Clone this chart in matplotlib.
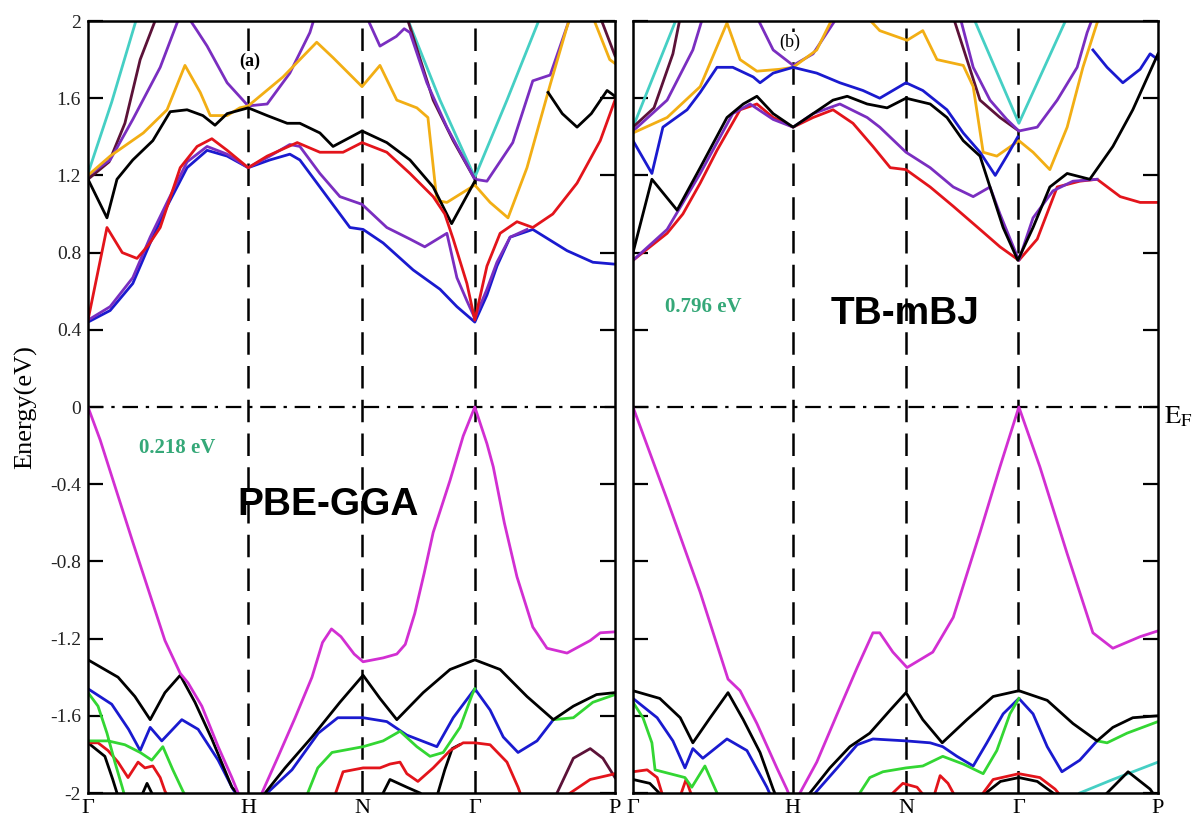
import numpy as np
import matplotlib.pyplot as plt

plt.rcParams["font.family"] = "serif"
plt.rcParams["font.serif"] = ["Liberation Serif", "DejaVu Serif"]
plt.rcParams["mathtext.fontset"] = "stix"

nan = np.nan

# path: Gamma-H-N-Gamma-P, as fraction of the total path length
kpoints = [0.0, 0.304, 0.520, 0.734, 1.0]
klabels = ["Γ", "H", "N", "Γ", "P"]
yticks = [-2, -1.6, -1.2, -0.8, -0.4, 0, 0.4, 0.8, 1.2, 1.6, 2]
ytick_labels = ["-2", "-1.6", "-1.2", "-0.8", "-0.4", "0", "0.4", "0.8", "1.2", "1.6", "2"]

C_BLACK = "#000000"
C_RED = "#e3141b"
C_GREEN = "#33d633"
C_BLUE = "#1a1acf"
C_MAGENTA = "#d22fd2"
C_VIOLET = "#7a2ec0"
C_ORANGE = "#f2ae14"
C_TURQ = "#45cfc4"
C_MAROON = "#5c1238"

# ---------------- (a) PBE-GGA : (k, E) points, nan breaks a line ----------
gga_vb_magenta = [(0, 0), (0.023, -0.17), (0.085, -0.70), (0.146, -1.21), (0.175, -1.38),
                  (0.190, -1.43), (0.216, -1.55), (0.247, -1.76), (0.273, -1.92), (0.285, -2.0),
                  (nan, nan),
                  (0.330, -2.0), (0.361, -1.81), (0.393, -1.61), (0.425, -1.40), (0.445, -1.22),
                  (0.462, -1.15), (0.480, -1.19), (0.505, -1.28), (0.522, -1.32), (0.560, -1.30),
                  (0.586, -1.28), (0.602, -1.23), (0.620, -1.07), (0.638, -0.86), (0.655, -0.65),
                  (0.687, -0.38), (0.712, -0.15), (0.734, 0.0), (0.757, -0.19), (0.769, -0.31),
                  (0.790, -0.60), (0.814, -0.88), (0.844, -1.14), (0.871, -1.25), (0.909, -1.275),
                  (0.953, -1.21), (0.972, -1.17), (1.0, -1.165)]
gga_vb_black = [(0, -1.31), (0.057, -1.40), (0.089, -1.50), (0.118, -1.62), (0.146, -1.48),
                (0.175, -1.39), (0.203, -1.53), (0.235, -1.72), (0.273, -1.97), (0.283, -2.0),
                (nan, nan),
                (0.336, -2.0), (0.374, -1.87), (0.425, -1.71), (0.478, -1.53), (0.522, -1.39),
                (0.554, -1.51), (0.586, -1.62), (0.636, -1.48), (0.687, -1.36), (0.734, -1.31),
                (0.782, -1.36), (0.833, -1.50), (0.883, -1.62), (0.921, -1.55), (0.965, -1.49),
                (1.0, -1.48)]
gga_vb_blue = [(0, -1.46), (0.045, -1.54), (0.077, -1.67), (0.099, -1.78), (0.118, -1.66),
               (0.140, -1.73), (0.178, -1.62), (0.209, -1.67), (0.247, -1.83), (0.275, -1.98),
               (0.280, -2.0), (nan, nan),
               (0.340, -2.0), (0.387, -1.88), (0.437, -1.69), (0.474, -1.61), (0.522, -1.61),
               (0.567, -1.63), (0.605, -1.70), (0.662, -1.76), (0.693, -1.61), (0.734, -1.46),
               (0.763, -1.57), (0.788, -1.71), (0.816, -1.79), (0.852, -1.73), (0.883, -1.62)]
gga_vb_green = [(0, -1.48), (0.019, -1.55), (0.036, -1.69), (0.051, -1.84), (0.065, -1.97),
                (0.068, -2.0), (nan, nan),
                (0.0, -1.73), (0.038, -1.73), (0.070, -1.75), (0.099, -1.79), (0.121, -1.83),
                (0.142, -1.76), (0.161, -1.88), (0.180, -1.99), (0.182, -2.0), (nan, nan),
                (0.417, -2.0), (0.436, -1.87), (0.463, -1.79), (0.522, -1.76), (0.560, -1.73),
                (0.592, -1.68), (0.624, -1.76), (0.649, -1.81), (0.674, -1.79), (0.706, -1.66),
                (0.729, -1.49), (0.734, -1.46), (nan, nan),
                (0.883, -1.62), (0.921, -1.61), (0.958, -1.53), (1.0, -1.49)]
gga_vb_red = [(0, -1.74), (0.019, -1.74), (0.038, -1.78), (0.057, -1.84), (0.076, -1.92),
              (0.095, -1.84), (0.108, -1.87), (0.123, -1.86), (0.137, -1.92), (0.146, -1.99),
              (0.148, -2.0), (nan, nan),
              (0.470, -2.0), (0.484, -1.89), (0.522, -1.87), (0.554, -1.87), (0.573, -1.85),
              (0.592, -1.84), (0.605, -1.90), (0.626, -1.94), (0.655, -1.87), (0.687, -1.78),
              (0.712, -1.74), (0.734, -1.74), (0.763, -1.75), (0.795, -1.84), (0.816, -1.97),
              (0.820, -2.0), (nan, nan),
              (0.915, -2.0), (0.953, -1.93), (0.985, -1.91), (1.0, -1.90)]
gga_vb_black_low = [(0, -1.74), (0.032, -1.81), (0.047, -1.93), (0.055, -2.0), (nan, nan),
                    (0.104, -2.0), (0.112, -1.95), (0.121, -2.0), (nan, nan),
                    (0.560, -2.0), (0.573, -1.93), (0.605, -1.97), (0.630, -2.0), (nan, nan),
                    (0.664, -2.0), (0.677, -1.88), (0.691, -1.77), (0.705, -1.75)]
gga_vb_maroon = [(0.890, -2.0), (0.921, -1.82), (0.953, -1.77), (0.977, -1.82), (1.0, -1.92)]

gga_cb_red = [(0, 0.45), (0.036, 0.93), (0.065, 0.80), (0.093, 0.77), (0.115, 0.84), (0.137, 0.93),
              (0.175, 1.24), (0.207, 1.35), (0.235, 1.39), (0.264, 1.33), (0.304, 1.24),
              (0.340, 1.30), (0.397, 1.37), (0.440, 1.32), (0.484, 1.32), (0.520, 1.37),
              (0.567, 1.32), (0.611, 1.21), (0.655, 1.09), (0.677, 1.00), (0.693, 0.87),
              (0.719, 0.64), (0.734, 0.45), (0.757, 0.73), (0.782, 0.90), (0.814, 0.96),
              (0.844, 0.93), (0.882, 1.00), (0.928, 1.16), (0.972, 1.38), (1.0, 1.59)]
gga_cb_blue = [(0, 0.44), (0.042, 0.50), (0.085, 0.64), (0.118, 0.85), (0.150, 1.04), (0.188, 1.24),
               (0.226, 1.33), (0.264, 1.30), (0.304, 1.24), (0.345, 1.28), (0.383, 1.31),
               (0.402, 1.28), (0.440, 1.14), (0.497, 0.93), (0.522, 0.92), (0.560, 0.85),
               (0.617, 0.71), (0.668, 0.61), (0.700, 0.52), (0.734, 0.44), (0.757, 0.58),
               (0.776, 0.73), (0.801, 0.88), (0.844, 0.92), (0.909, 0.81), (0.958, 0.75),
               (1.0, 0.74)]
gga_cb_violet = [(0, 0.45), (0.042, 0.52), (0.085, 0.67), (0.118, 0.88), (0.150, 1.06),
                 (0.188, 1.27), (0.226, 1.35), (0.264, 1.31), (0.304, 1.24), (0.345, 1.30),
                 (0.383, 1.36), (0.402, 1.35), (0.440, 1.21), (0.478, 1.09), (0.520, 1.05),
                 (0.567, 0.93), (0.611, 0.87), (0.639, 0.83), (0.681, 0.90), (0.700, 0.67),
                 (0.719, 0.55), (0.734, 0.46), (0.757, 0.61), (0.776, 0.75), (0.801, 0.88),
                 (0.833, 0.92)]
gga_cb_black = [(0, 1.18), (0.036, 0.98), (0.055, 1.18), (0.085, 1.28), (0.123, 1.38),
                (0.156, 1.53), (0.188, 1.54), (0.218, 1.51), (0.241, 1.46), (0.264, 1.52),
                (0.304, 1.55), (0.340, 1.51), (0.378, 1.47), (0.402, 1.47), (0.440, 1.42),
                (0.465, 1.35), (0.520, 1.43), (0.567, 1.37), (0.611, 1.28), (0.655, 1.14),
                (0.690, 0.95), (0.734, 1.17), (nan, nan),
                (0.873, 1.63), (0.900, 1.52), (0.928, 1.45), (0.955, 1.52), (0.985, 1.64),
                (1.0, 1.61)]
gga_cb_orange = [(0, 1.20), (0.042, 1.30), (0.105, 1.42), (0.150, 1.54), (0.184, 1.77),
                 (0.213, 1.63), (0.232, 1.51), (0.264, 1.51), (0.288, 1.55), (0.304, 1.56),
                 (0.370, 1.71), (0.434, 1.89), (0.465, 1.81), (0.520, 1.66), (0.554, 1.77),
                 (0.586, 1.59), (0.624, 1.55), (0.645, 1.50), (0.662, 1.07), (0.681, 1.06),
                 (0.734, 1.15), (0.763, 1.06), (0.797, 0.98), (0.833, 1.24), (0.877, 1.67),
                 (0.909, 1.97), (0.915, 2.02), (nan, nan),
                 (0.958, 2.02), (0.990, 1.80), (1.0, 1.78)]
gga_cb_violet_hi = [(0, 1.20), (0.042, 1.28), (0.085, 1.49), (0.137, 1.76), (0.169, 1.99),
                    (0.175, 2.02), (nan, nan),
                    (0.190, 2.02), (0.207, 1.95), (0.226, 1.87), (0.264, 1.68), (0.304, 1.56),
                    (0.340, 1.57), (0.383, 1.73), (0.421, 1.94), (0.430, 2.02), (nan, nan),
                    (0.529, 2.02), (0.554, 1.87), (0.585, 1.92), (0.600, 1.96), (0.611, 1.94),
                    (0.643, 1.68), (0.681, 1.45), (0.734, 1.18), (0.757, 1.17), (0.806, 1.37),
                    (0.844, 1.69), (0.877, 1.72), (0.915, 2.02)]
gga_cb_maroon = [(0, 1.18), (0.040, 1.27), (0.070, 1.47), (0.099, 1.80), (0.130, 2.02), (nan, nan),
                 (0.605, 2.02), (0.655, 1.59), (0.693, 1.38), (0.734, 1.18), (nan, nan),
                 (0.972, 2.02), (1.0, 1.82)]
gga_cb_turq = [(0, 1.21), (0.045, 1.58), (0.093, 2.02), (nan, nan),
               (0.605, 2.02), (0.668, 1.59), (0.734, 1.19), (0.795, 1.59), (0.858, 2.02)]

# ---------------- (b) TB-mBJ ----------------------------------------------
mbj_vb_magenta = [(0, 0), (0.065, -0.48), (0.128, -0.96), (0.181, -1.41), (0.204, -1.47),
                  (0.236, -1.64), (0.274, -1.87), (0.293, -1.98), (0.296, -2.0), (nan, nan),
                  (0.318, -2.0), (0.350, -1.84), (0.389, -1.59), (0.427, -1.35), (0.457, -1.17),
                  (0.470, -1.17), (0.495, -1.27), (0.522, -1.35), (0.571, -1.27), (0.610, -1.09),
                  (0.661, -0.65), (0.699, -0.31), (0.735, 0.0), (0.775, -0.31), (0.827, -0.76),
                  (0.876, -1.17), (0.914, -1.25), (0.966, -1.19), (1.0, -1.16)]
mbj_vb_black = [(0, -1.47), (0.051, -1.51), (0.090, -1.61), (0.114, -1.74), (0.147, -1.61),
                (0.181, -1.48), (0.210, -1.62), (0.242, -1.79), (0.267, -1.98), (0.270, -2.0),
                (nan, nan),
                (0.337, -2.0), (0.375, -1.87), (0.413, -1.76), (0.451, -1.69), (0.490, -1.57),
                (0.520, -1.48), (0.552, -1.62), (0.589, -1.74), (0.636, -1.62), (0.686, -1.50),
                (0.735, -1.47), (0.789, -1.52), (0.838, -1.64), (0.884, -1.73), (0.914, -1.66),
                (0.952, -1.61), (1.0, -1.60)]
mbj_vb_blue = [(0, -1.51), (0.046, -1.61), (0.076, -1.73), (0.099, -1.87), (0.114, -1.77),
               (0.133, -1.82), (0.179, -1.72), (0.217, -1.78), (0.255, -1.97), (0.260, -2.0),
               (nan, nan),
               (0.347, -2.0), (0.389, -1.87), (0.427, -1.75), (0.457, -1.72), (0.520, -1.73),
               (0.566, -1.74), (0.590, -1.76), (0.617, -1.81), (0.648, -1.86), (0.674, -1.74),
               (0.705, -1.59), (0.735, -1.51), (0.762, -1.59), (0.789, -1.76), (0.817, -1.89),
               (0.851, -1.83), (0.884, -1.73)]
mbj_vb_green = [(0, -1.53), (0.019, -1.61), (0.036, -1.74), (0.042, -1.88), (0.099, -1.92),
                (0.112, -1.97), (0.137, -1.86), (0.160, -2.0), (nan, nan),
                (0.432, -2.0), (0.451, -1.92), (0.476, -1.89), (0.520, -1.87), (0.552, -1.86),
                (0.590, -1.81), (0.629, -1.85), (0.667, -1.90), (0.693, -1.78), (0.718, -1.59),
                (0.735, -1.51), (nan, nan),
                (0.884, -1.73), (0.903, -1.74), (0.941, -1.69), (1.0, -1.63)]
mbj_vb_red = [(0, -1.89), (0.027, -1.88), (0.046, -1.92), (0.055, -2.0), (nan, nan),
              (0.092, -2.0), (0.101, -1.93), (0.110, -2.0), (nan, nan),
              (0.495, -2.0), (0.514, -1.95), (0.541, -1.97), (0.550, -2.0), (nan, nan),
              (0.575, -2.0), (0.585, -1.91), (0.600, -1.95), (0.610, -2.0), (nan, nan),
              (0.667, -2.0), (0.686, -1.93), (0.735, -1.90), (0.775, -1.92), (0.804, -1.98),
              (0.810, -2.0)]
mbj_vb_black_low = [(0, -1.93), (0.032, -1.95), (0.050, -2.0), (nan, nan),
                    (0.672, -2.0), (0.700, -1.94), (0.735, -1.92), (0.770, -1.94), (0.800, -2.0),
                    (nan, nan),
                    (0.903, -2.0), (0.943, -1.89), (0.985, -1.98), (0.990, -2.0)]
mbj_vb_turq = [(0.851, -2.0), (0.914, -1.93), (1.0, -1.84)]

mbj_cb_red = [(0, 0.76), (0.065, 0.90), (0.095, 1.00), (0.128, 1.16), (0.160, 1.33), (0.204, 1.54),
              (0.236, 1.57), (0.267, 1.50), (0.305, 1.45), (0.343, 1.50), (0.381, 1.54),
              (0.419, 1.47), (0.457, 1.35), (0.490, 1.24), (0.520, 1.23), (0.566, 1.14),
              (0.610, 1.04), (0.661, 0.92), (0.699, 0.83), (0.735, 0.76), (0.770, 0.87),
              (0.808, 1.14), (0.851, 1.17), (0.884, 1.18), (0.928, 1.09), (0.966, 1.06),
              (1.0, 1.06)]
mbj_cb_violet = [(0, 0.76), (0.065, 0.92), (0.128, 1.21), (0.190, 1.52), (0.223, 1.57),
                 (0.267, 1.49), (0.305, 1.45), (0.343, 1.52), (0.394, 1.57), (0.446, 1.50),
                 (0.470, 1.45), (0.520, 1.32), (0.566, 1.24), (0.610, 1.14), (0.648, 1.09),
                 (0.680, 1.14), (0.699, 1.00), (0.735, 0.76), (0.762, 0.98), (0.800, 1.12),
                 (0.838, 1.17), (0.884, 1.18)]
mbj_cb_black = [(0, 0.80), (0.036, 1.18), (0.084, 1.02), (0.128, 1.24), (0.179, 1.50),
                (0.210, 1.57), (0.236, 1.61), (0.267, 1.52), (0.305, 1.45), (0.343, 1.52),
                (0.381, 1.59), (0.408, 1.61), (0.446, 1.57), (0.484, 1.55), (0.520, 1.60),
                (0.566, 1.57), (0.598, 1.50), (0.629, 1.38), (0.661, 1.30), (0.680, 1.14),
                (0.705, 0.93), (0.733, 0.76), (0.762, 0.93), (0.794, 1.14), (0.827, 1.21),
                (0.870, 1.18), (0.914, 1.35), (0.952, 1.54), (1.0, 1.83)]
mbj_cb_blue = [(0, 1.38), (0.036, 1.21), (0.057, 1.45), (0.103, 1.54), (0.128, 1.63),
               (0.160, 1.76), (0.190, 1.76), (0.229, 1.71), (0.242, 1.68), (0.267, 1.73),
               (0.305, 1.76), (0.350, 1.73), (0.394, 1.68), (0.438, 1.64), (0.470, 1.60),
               (0.520, 1.68), (0.552, 1.64), (0.598, 1.54), (0.629, 1.42), (0.661, 1.32),
               (0.690, 1.20), (0.712, 1.30), (0.733, 1.40), (nan, nan),
               (0.876, 1.85), (0.903, 1.76), (0.933, 1.68), (0.966, 1.75), (0.985, 1.83),
               (1.0, 1.80)]
mbj_cb_orange = [(0, 1.42), (0.065, 1.50), (0.128, 1.66), (0.179, 1.99), (0.204, 1.80),
                 (0.236, 1.74), (0.280, 1.75), (0.305, 1.76), (0.350, 1.85), (0.381, 2.02),
                 (nan, nan),
                 (0.446, 2.02), (0.470, 1.95), (0.522, 1.90), (0.552, 1.95), (0.579, 1.80),
                 (0.629, 1.77), (0.648, 1.66), (0.667, 1.32), (0.693, 1.30), (0.735, 1.38),
                 (0.762, 1.32), (0.794, 1.23), (0.827, 1.45), (0.857, 1.76), (0.884, 1.99),
                 (0.890, 2.02)]
mbj_cb_violet_hi = [(0, 1.43), (0.065, 1.59), (0.114, 1.85), (0.133, 2.02), (nan, nan),
                    (0.236, 2.02), (0.267, 1.85), (0.305, 1.77), (0.343, 1.83), (0.389, 2.02),
                    (nan, nan),
                    (0.623, 2.02), (0.648, 1.76), (0.680, 1.59), (0.712, 1.49), (0.735, 1.43),
                    (0.770, 1.45), (0.808, 1.59), (0.846, 1.76), (0.865, 1.94), (0.876, 2.02)]
mbj_cb_maroon = [(0, 1.45), (0.040, 1.55), (0.076, 1.83), (0.090, 2.02), (nan, nan),
                 (0.610, 2.02), (0.661, 1.59), (0.699, 1.50), (0.735, 1.43)]
mbj_cb_turq = [(0, 1.45), (0.084, 2.02), (nan, nan),
               (0.648, 2.02), (0.735, 1.47), (0.827, 2.02)]

# drawing order: later entries lie on top
gga_bands = [
    (gga_cb_turq, C_TURQ), (gga_cb_maroon, C_MAROON), (gga_cb_violet_hi, C_VIOLET),
    (gga_cb_orange, C_ORANGE), (gga_cb_black, C_BLACK), (gga_cb_blue, C_BLUE),
    (gga_cb_violet, C_VIOLET), (gga_cb_red, C_RED),
    (gga_vb_maroon, C_MAROON), (gga_vb_black_low, C_BLACK), (gga_vb_red, C_RED),
    (gga_vb_blue, C_BLUE), (gga_vb_green, C_GREEN), (gga_vb_black, C_BLACK),
    (gga_vb_magenta, C_MAGENTA),
]
mbj_bands = [
    (mbj_cb_turq, C_TURQ), (mbj_cb_maroon, C_MAROON), (mbj_cb_violet_hi, C_VIOLET),
    (mbj_cb_orange, C_ORANGE), (mbj_cb_blue, C_BLUE), (mbj_cb_red, C_RED),
    (mbj_cb_violet, C_VIOLET), (mbj_cb_black, C_BLACK),
    (mbj_vb_turq, C_TURQ), (mbj_vb_black_low, C_BLACK), (mbj_vb_red, C_RED),
    (mbj_vb_blue, C_BLUE), (mbj_vb_green, C_GREEN), (mbj_vb_black, C_BLACK),
    (mbj_vb_magenta, C_MAGENTA),
]

W, H = 1197, 818
fig = plt.figure(figsize=(W / 100, H / 100), dpi=100)
ax_a = fig.add_axes([88 / W, 25 / H, 527 / W, 772 / H])
ax_b = fig.add_axes([633 / W, 25 / H, 525 / W, 772 / H])


def setup_panel(ax, bands, show_labels):
    for pts, color in bands:
        arr = np.array(pts, dtype=float)
        ax.plot(arr[:, 0], arr[:, 1], color=color, lw=2.0, solid_joinstyle="round")
    for kp in kpoints[1:-1]:
        ax.axvline(kp, color="black", lw=1.8, ls=(0, (9, 4.5)), zorder=0.5)
    ax.axhline(0, color="black", lw=1.6, ls=(0, (7, 3.5, 1.5, 3.5)), zorder=0.5)
    ax.set_xlim(0, 1)
    ax.set_ylim(-2, 2)
    ax.set_xticks(kpoints)
    ax.set_xticklabels(klabels, fontsize=16)
    ax.set_yticks(yticks)
    ax.set_yticklabels(ytick_labels if show_labels else [], fontsize=14)
    ax.tick_params(axis="y", which="both", direction="in", length=11, width=1.6,
                   left=True, right=True, pad=5, colors="black", labelcolor="#222222")
    ax.tick_params(axis="x", length=0, pad=4)
    for sp in ax.spines.values():
        sp.set_linewidth(1.8)


setup_panel(ax_a, gga_bands, True)
setup_panel(ax_b, mbj_bands, False)

ax_a.set_ylabel("Energy(eV)", fontsize=19)
ax_a.yaxis.set_label_coords(-0.096, 0.5)

ax_a.text(0.307, 1.79, "(a)", ha="center", va="center", fontsize=13, fontweight="bold",
          bbox=dict(facecolor="white", edgecolor="none", pad=1))
ax_b.text(0.299, 1.89, "(b)", ha="center", va="center", fontsize=13,
          bbox=dict(facecolor="white", edgecolor="none", pad=1))

ax_a.text(0.169, -0.21, "0.218 eV", ha="center", va="center", fontsize=15,
          fontweight="bold", color="#35a878")
ax_b.text(0.133, 0.52, "0.796 eV", ha="center", va="center", fontsize=15,
          fontweight="bold", color="#35a878")

ax_a.text(0.455, -0.51, "PBE-GGA", ha="center", va="center", fontsize=28,
          fontweight="bold", family="Liberation Sans")
ax_b.text(0.518, 0.48, "TB-mBJ", ha="center", va="center", fontsize=28,
          fontweight="bold", family="Liberation Sans")

ax_b.text(1.012, 0.503, r"$\mathrm{E_F}$", transform=ax_b.transAxes, ha="left", va="top",
          fontsize=19)

fig.savefig("out.png", dpi=100)
